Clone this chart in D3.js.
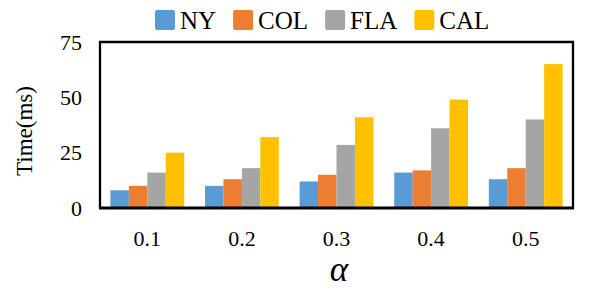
<!DOCTYPE html>
<meta charset="utf-8">
<style>
body{
    margin:0;
    background:#fff;
}
.frame{
    fill:none;
    stroke:#000;
    stroke-width:2.3;
}
.baseline{
    stroke:#000;
    stroke-width:3;
}
</style>
<svg width="591" height="296" font-family="Liberation Serif"></svg>
<script src="https://d3js.org/d3.v7.min.js"></script>
<script>

var alphas = ['0.1', '0.2', '0.3', '0.4', '0.5'];
var cities = ['NY', 'COL', 'FLA', 'CAL'];
var ny  = [8, 10, 12, 16, 13];
var col = [10, 13, 15, 17, 18];
var fla = [16, 18, 28.5, 36, 40];
var cal = [25, 32, 41, 49, 65];
var yTicks = [0, 25, 50, 75];

var colour = {
    NY:'#5b9bd5',
    COL:'#ed7d31',
    FLA:'#a5a5a5',
    CAL:'#ffc000'
};

var series = {NY: ny, COL: col, FLA: fla, CAL: cal};
var serif = 'Liberation Serif';

var svg = d3.select('svg');
var plot = {left:100, right:573, top:42, bottom:208};

var x0 = d3.scaleBand()
    .domain(alphas)
    .range([plot.left, plot.right])
    .paddingInner(0.22)
    .paddingOuter(0.11);

var x1 = d3.scaleBand()
    .domain(cities)
    .range([0, x0.bandwidth()]);

var y = d3.scaleLinear()
    .domain([0, 75])
    .range([plot.bottom, plot.top]);

// bars
var groups = svg.append('g').attr('class','bars')
    .selectAll('g')
    .data(alphas)
    .enter()
    .append('g')
    .attr('transform', function(d){ return 'translate(' + x0(d) + ',0)'; });

groups.selectAll('rect')
    .data(function(a, i){
        return cities.map(function(c){ return {city:c, value:series[c][i]}; });
    })
    .enter()
    .append('rect')
    .attr('x', function(d){ return x1(d.city); })
    .attr('width', x1.bandwidth())
    .attr('y', function(d){ return y(d.value); })
    .attr('height', function(d){ return y(0) - y(d.value); })
    .attr('fill', function(d){ return colour[d.city]; });

// frame
svg.append('path')
    .attr('class','frame')
    .attr('d', 'M' + plot.left + ',' + plot.bottom + 'V' + plot.top + 'H' + plot.right + 'V' + plot.bottom);
svg.append('line')
    .attr('class','baseline')
    .attr('x1', plot.left - 1).attr('x2', plot.right + 1)
    .attr('y1', plot.bottom).attr('y2', plot.bottom);

// axes
var yAxis = svg.append('g')
    .attr('transform', 'translate(' + plot.left + ',0)')
    .call(d3.axisLeft(y).tickValues(yTicks).tickSize(0).tickPadding(18))
    .attr('font-family', serif)
    .attr('font-size', 22);
yAxis.select('.domain').remove();
yAxis.selectAll('text').attr('font-family', serif).attr('fill', '#000');

var xAxis = svg.append('g')
    .attr('transform', 'translate(0,' + plot.bottom + ')')
    .call(d3.axisBottom(x0).tickSize(0).tickPadding(22))
    .attr('font-family', serif)
    .attr('font-size', 22);
xAxis.select('.domain').remove();
xAxis.selectAll('text').attr('font-family', serif).attr('fill', '#000');

// axis titles
svg.append('text')
    .attr('transform', 'translate(32,131) rotate(-90)')
    .attr('text-anchor', 'middle')
    .attr('font-family', serif)
    .attr('font-size', 23)
    .text('Time(ms)');

svg.append('text')
    .attr('x', 339)
    .attr('y', 281)
    .attr('text-anchor', 'middle')
    .attr('font-family', serif)
    .attr('font-size', 35)
    .attr('font-style', 'italic')
    .text('α');

// legend
var legend = svg.append('g').attr('class','legend');
var lx = 155;
cities.forEach(function(c){
    legend.append('rect')
        .attr('x', lx).attr('y', 10)
        .attr('width', 20).attr('height', 20)
        .attr('rx', 2)
        .attr('fill', colour[c]);
    var t = legend.append('text')
        .attr('x', lx + 25)
        .attr('y', 29)
        .attr('font-family', serif)
        .attr('font-size', 25)
        .text(c);
    lx = lx + 25 + t.node().getComputedTextLength() + 17;
});

</script>
